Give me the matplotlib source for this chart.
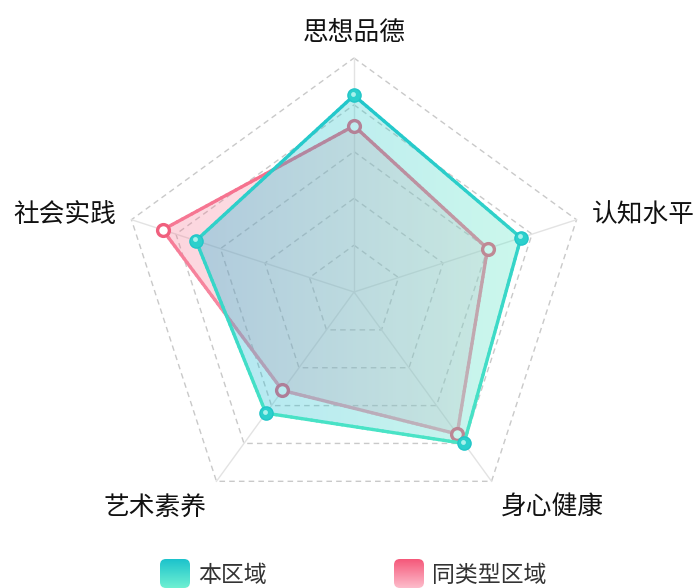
import numpy as np
import matplotlib
matplotlib.use("Agg")
import matplotlib.pyplot as plt
from matplotlib.collections import LineCollection
from matplotlib.colors import to_rgb
from matplotlib.patches import Polygon, FancyBboxPatch

plt.rcParams['font.family'] = ['Noto Sans CJK SC', 'DejaVu Sans']

indicators = ["思想品德", "认知水平", "身心健康", "艺术素养", "社会实践"]
local_vals = [84, 75, 80, 64, 71]       # 本区域
peer_vals = [71, 60, 75, 52, 86]        # 同类型区域
series_names = ["本区域", "同类型区域"]
max_val = 100
levels = [20, 40, 60, 80, 100]

TEAL_LINE = ("#1cc3cc", "#55ebc4")      # top -> bottom
TEAL_FILL = ("#0fb2d8", "#5ee8c4")      # left -> right
PINK_LINE = ("#f5587a", "#f7b4c4")
PINK_FILL = ("#f56a88", "#f8b8c6")
TEAL_SWATCH = ("#1cc3cc", "#6ff0d2")
PINK_SWATCH = ("#f5587a", "#fdbccb")

# px per value unit: outer ring radius 234 px == 100
S = 2.34
CX, CY = 354, 292
W, H = 698, 588

fig = plt.figure(figsize=(W / 100, H / 100), dpi=100)
ax = fig.add_axes([0, 0, 1, 1])
ax.set_xlim(-CX / S, (W - CX) / S)
ax.set_ylim(-(H - CY) / S, CY / S)
ax.set_aspect("equal")
ax.axis("off")

n = len(indicators)
ang = np.deg2rad(90 - 72 * np.arange(n))


def xy(vals):
    v = np.asarray(vals, float) / max_val * 100
    return v * np.cos(ang), v * np.sin(ang)


# grid
for lv in levels:
    gx, gy = lv * np.cos(ang), lv * np.sin(ang)
    ax.plot(np.r_[gx, gx[0]], np.r_[gy, gy[0]], color="#c9c9c9", lw=1.0,
            dashes=(4, 3), zorder=1)
for a in ang:
    ax.plot([0, 100 * np.cos(a)], [0, 100 * np.sin(a)], color="#e3e3e3", lw=1.0, zorder=1)


def grad_fill(px, py, c0, c1, alpha, z):
    poly = Polygon(np.c_[px, py], closed=True, facecolor="none", edgecolor="none")
    ax.add_patch(poly)
    a, b = np.array(to_rgb(c0)), np.array(to_rgb(c1))
    t = np.linspace(0, 1, 256)[None, :, None]
    img = np.concatenate([a + (b - a) * t, np.full((1, 256, 1), alpha)], axis=2)
    im = ax.imshow(img, extent=[px.min(), px.max(), py.min(), py.max()],
                   aspect="auto", zorder=z, interpolation="bilinear")
    im.set_clip_path(poly)


def grad_line(px, py, c0, c1, lw, z):
    xs, ys = np.r_[px, px[0]], np.r_[py, py[0]]
    segs, cols = [], []
    a, b = np.array(to_rgb(c0)), np.array(to_rgb(c1))
    top, bot = 100, -100
    for i in range(len(xs) - 1):
        tt = np.linspace(0, 1, 40)
        sx = xs[i] + (xs[i + 1] - xs[i]) * tt
        sy = ys[i] + (ys[i + 1] - ys[i]) * tt
        for k in range(len(tt) - 1):
            segs.append([(sx[k], sy[k]), (sx[k + 1], sy[k + 1])])
            f = (top - (sy[k] + sy[k + 1]) / 2) / (top - bot)
            cols.append(a + (b - a) * f)
    ax.add_collection(LineCollection(segs, colors=cols, linewidths=lw,
                                     capstyle="round", zorder=z))


# peer series (drawn first, under the local one)
px, py = xy(peer_vals)
grad_fill(px, py, *PINK_FILL, 0.28, 2)
grad_line(px, py, *PINK_LINE, 2.4, 3)
ax.plot(px, py, "o", ms=8.5, mfc="white", mec="#f0607e", mew=2.4, zorder=4)

# local series
lx, ly = xy(local_vals)
grad_fill(lx, ly, *TEAL_FILL, 0.32, 5)
grad_line(lx, ly, *TEAL_LINE, 2.4, 6)
ax.plot(lx, ly, "o", ms=9.5, mfc="#2cd0cc", mec="#22c6c8", mew=1.0, zorder=7)
ax.plot(lx - 0.6, ly + 0.6, "o", ms=3.5, mfc="#a8f2ec", mec="none", zorder=8)

# axis names
for name, a in zip(indicators, ang):
    c, s = np.cos(a), np.sin(a)
    ha = "center" if abs(c) < 0.1 else ("left" if c > 0 else "right")
    va = "bottom" if s > 0.9 else ("top" if s < -0.5 else "center")
    gap = 105 if s > 0.9 else 107
    ax.text(gap * c, gap * s, name, ha=ha, va=va, fontsize=18.5, color="#111111",
            fontweight="medium")

# legend (pixel layout)
lg = fig.add_axes([0, 0, 1, 1])
lg.set_xlim(0, W)
lg.set_ylim(H, 0)
lg.axis("off")
leg_x = [160, 394]
for (c0, c1), name, x0 in zip([TEAL_SWATCH, PINK_SWATCH], series_names, leg_x):
    box = FancyBboxPatch((x0, 559), 30, 29, boxstyle="round,pad=0,rounding_size=6",
                         facecolor="none", edgecolor="none")
    lg.add_patch(box)
    a, b = np.array(to_rgb(c0)), np.array(to_rgb(c1))
    t = np.linspace(0, 1, 64)[:, None, None]
    img = a + (b - a) * t
    im = lg.imshow(img, extent=[x0, x0 + 30, 588, 559], aspect="auto", interpolation="bilinear")
    im.set_clip_path(box)
    lg.text(x0 + 38, 575, name, ha="left", va="center", fontsize=16.5, color="#333333")

fig.savefig("out.png", dpi=100)
